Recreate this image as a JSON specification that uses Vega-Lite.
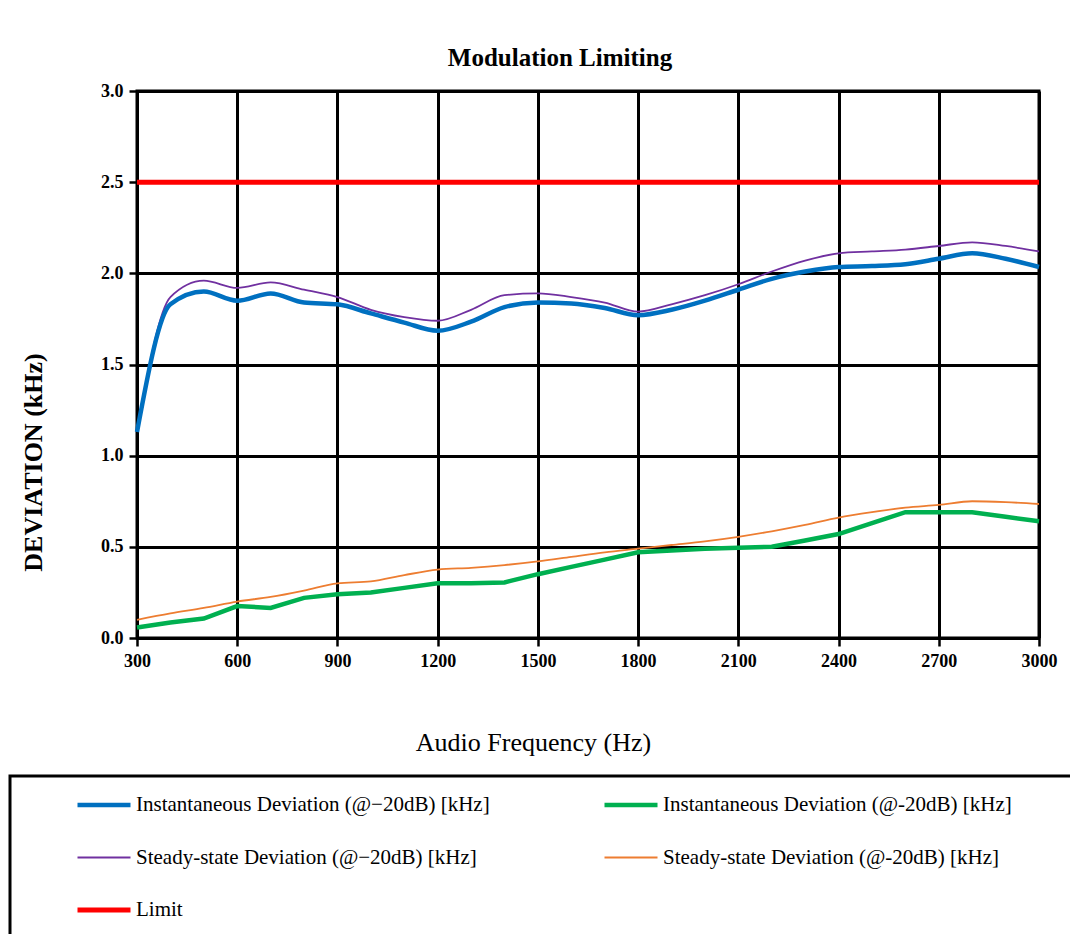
{
  "$schema": "https://vega.github.io/schema/vega-lite/v6.json",
  "autosize": "none",
  "width": 902,
  "height": 547,
  "padding": {"left": 137, "top": 91, "right": 31, "bottom": 296},
  "background": "white",
  "title": {
    "text": "Modulation Limiting",
    "font": "Liberation Serif",
    "fontWeight": "bold",
    "fontSize": 25,
    "color": "black",
    "anchor": "middle",
    "dx": -28,
    "offset": 11
  },
  "data": {
    "values": [
      {"series": "Instantaneous Deviation (@−20dB) [kHz]", "freq": 300, "dev": 1.13},
      {"series": "Instantaneous Deviation (@−20dB) [kHz]", "freq": 400, "dev": 1.83},
      {"series": "Instantaneous Deviation (@−20dB) [kHz]", "freq": 500, "dev": 1.9},
      {"series": "Instantaneous Deviation (@−20dB) [kHz]", "freq": 600, "dev": 1.85},
      {"series": "Instantaneous Deviation (@−20dB) [kHz]", "freq": 700, "dev": 1.89},
      {"series": "Instantaneous Deviation (@−20dB) [kHz]", "freq": 800, "dev": 1.84},
      {"series": "Instantaneous Deviation (@−20dB) [kHz]", "freq": 900, "dev": 1.83},
      {"series": "Instantaneous Deviation (@−20dB) [kHz]", "freq": 1000, "dev": 1.78},
      {"series": "Instantaneous Deviation (@−20dB) [kHz]", "freq": 1100, "dev": 1.73},
      {"series": "Instantaneous Deviation (@−20dB) [kHz]", "freq": 1200, "dev": 1.685},
      {"series": "Instantaneous Deviation (@−20dB) [kHz]", "freq": 1300, "dev": 1.735},
      {"series": "Instantaneous Deviation (@−20dB) [kHz]", "freq": 1400, "dev": 1.815},
      {"series": "Instantaneous Deviation (@−20dB) [kHz]", "freq": 1500, "dev": 1.84},
      {"series": "Instantaneous Deviation (@−20dB) [kHz]", "freq": 1600, "dev": 1.835},
      {"series": "Instantaneous Deviation (@−20dB) [kHz]", "freq": 1700, "dev": 1.81},
      {"series": "Instantaneous Deviation (@−20dB) [kHz]", "freq": 1800, "dev": 1.77},
      {"series": "Instantaneous Deviation (@−20dB) [kHz]", "freq": 1900, "dev": 1.8},
      {"series": "Instantaneous Deviation (@−20dB) [kHz]", "freq": 2000, "dev": 1.85},
      {"series": "Instantaneous Deviation (@−20dB) [kHz]", "freq": 2100, "dev": 1.91},
      {"series": "Instantaneous Deviation (@−20dB) [kHz]", "freq": 2200, "dev": 1.97},
      {"series": "Instantaneous Deviation (@−20dB) [kHz]", "freq": 2300, "dev": 2.01},
      {"series": "Instantaneous Deviation (@−20dB) [kHz]", "freq": 2400, "dev": 2.035},
      {"series": "Instantaneous Deviation (@−20dB) [kHz]", "freq": 2500, "dev": 2.04},
      {"series": "Instantaneous Deviation (@−20dB) [kHz]", "freq": 2600, "dev": 2.05},
      {"series": "Instantaneous Deviation (@−20dB) [kHz]", "freq": 2700, "dev": 2.08},
      {"series": "Instantaneous Deviation (@−20dB) [kHz]", "freq": 2800, "dev": 2.11},
      {"series": "Instantaneous Deviation (@−20dB) [kHz]", "freq": 2900, "dev": 2.08},
      {"series": "Instantaneous Deviation (@−20dB) [kHz]", "freq": 3000, "dev": 2.035},

      {"series": "Steady-state Deviation (@−20dB) [kHz]", "freq": 300, "dev": 1.13},
      {"series": "Steady-state Deviation (@−20dB) [kHz]", "freq": 400, "dev": 1.87},
      {"series": "Steady-state Deviation (@−20dB) [kHz]", "freq": 500, "dev": 1.96},
      {"series": "Steady-state Deviation (@−20dB) [kHz]", "freq": 600, "dev": 1.92},
      {"series": "Steady-state Deviation (@−20dB) [kHz]", "freq": 700, "dev": 1.95},
      {"series": "Steady-state Deviation (@−20dB) [kHz]", "freq": 800, "dev": 1.91},
      {"series": "Steady-state Deviation (@−20dB) [kHz]", "freq": 900, "dev": 1.87},
      {"series": "Steady-state Deviation (@−20dB) [kHz]", "freq": 1000, "dev": 1.8},
      {"series": "Steady-state Deviation (@−20dB) [kHz]", "freq": 1100, "dev": 1.76},
      {"series": "Steady-state Deviation (@−20dB) [kHz]", "freq": 1200, "dev": 1.74},
      {"series": "Steady-state Deviation (@−20dB) [kHz]", "freq": 1300, "dev": 1.8},
      {"series": "Steady-state Deviation (@−20dB) [kHz]", "freq": 1400, "dev": 1.88},
      {"series": "Steady-state Deviation (@−20dB) [kHz]", "freq": 1500, "dev": 1.89},
      {"series": "Steady-state Deviation (@−20dB) [kHz]", "freq": 1600, "dev": 1.87},
      {"series": "Steady-state Deviation (@−20dB) [kHz]", "freq": 1700, "dev": 1.84},
      {"series": "Steady-state Deviation (@−20dB) [kHz]", "freq": 1800, "dev": 1.79},
      {"series": "Steady-state Deviation (@−20dB) [kHz]", "freq": 1900, "dev": 1.83},
      {"series": "Steady-state Deviation (@−20dB) [kHz]", "freq": 2000, "dev": 1.88},
      {"series": "Steady-state Deviation (@−20dB) [kHz]", "freq": 2100, "dev": 1.94},
      {"series": "Steady-state Deviation (@−20dB) [kHz]", "freq": 2200, "dev": 2.01},
      {"series": "Steady-state Deviation (@−20dB) [kHz]", "freq": 2300, "dev": 2.07},
      {"series": "Steady-state Deviation (@−20dB) [kHz]", "freq": 2400, "dev": 2.11},
      {"series": "Steady-state Deviation (@−20dB) [kHz]", "freq": 2500, "dev": 2.12},
      {"series": "Steady-state Deviation (@−20dB) [kHz]", "freq": 2600, "dev": 2.13},
      {"series": "Steady-state Deviation (@−20dB) [kHz]", "freq": 2700, "dev": 2.15},
      {"series": "Steady-state Deviation (@−20dB) [kHz]", "freq": 2800, "dev": 2.17},
      {"series": "Steady-state Deviation (@−20dB) [kHz]", "freq": 2900, "dev": 2.15},
      {"series": "Steady-state Deviation (@−20dB) [kHz]", "freq": 3000, "dev": 2.12},

      {"series": "Instantaneous Deviation (@-20dB) [kHz]", "freq": 300, "dev": 0.058},
      {"series": "Instantaneous Deviation (@-20dB) [kHz]", "freq": 400, "dev": 0.085},
      {"series": "Instantaneous Deviation (@-20dB) [kHz]", "freq": 500, "dev": 0.107},
      {"series": "Instantaneous Deviation (@-20dB) [kHz]", "freq": 600, "dev": 0.175},
      {"series": "Instantaneous Deviation (@-20dB) [kHz]", "freq": 700, "dev": 0.165},
      {"series": "Instantaneous Deviation (@-20dB) [kHz]", "freq": 800, "dev": 0.22},
      {"series": "Instantaneous Deviation (@-20dB) [kHz]", "freq": 900, "dev": 0.24},
      {"series": "Instantaneous Deviation (@-20dB) [kHz]", "freq": 1000, "dev": 0.25},
      {"series": "Instantaneous Deviation (@-20dB) [kHz]", "freq": 1100, "dev": 0.275},
      {"series": "Instantaneous Deviation (@-20dB) [kHz]", "freq": 1200, "dev": 0.3},
      {"series": "Instantaneous Deviation (@-20dB) [kHz]", "freq": 1300, "dev": 0.3},
      {"series": "Instantaneous Deviation (@-20dB) [kHz]", "freq": 1400, "dev": 0.305},
      {"series": "Instantaneous Deviation (@-20dB) [kHz]", "freq": 1500, "dev": 0.35},
      {"series": "Instantaneous Deviation (@-20dB) [kHz]", "freq": 1600, "dev": 0.39},
      {"series": "Instantaneous Deviation (@-20dB) [kHz]", "freq": 1700, "dev": 0.43},
      {"series": "Instantaneous Deviation (@-20dB) [kHz]", "freq": 1800, "dev": 0.47},
      {"series": "Instantaneous Deviation (@-20dB) [kHz]", "freq": 1900, "dev": 0.48},
      {"series": "Instantaneous Deviation (@-20dB) [kHz]", "freq": 2000, "dev": 0.49},
      {"series": "Instantaneous Deviation (@-20dB) [kHz]", "freq": 2100, "dev": 0.495},
      {"series": "Instantaneous Deviation (@-20dB) [kHz]", "freq": 2200, "dev": 0.5},
      {"series": "Instantaneous Deviation (@-20dB) [kHz]", "freq": 2300, "dev": 0.535},
      {"series": "Instantaneous Deviation (@-20dB) [kHz]", "freq": 2400, "dev": 0.57},
      {"series": "Instantaneous Deviation (@-20dB) [kHz]", "freq": 2500, "dev": 0.63},
      {"series": "Instantaneous Deviation (@-20dB) [kHz]", "freq": 2600, "dev": 0.69},
      {"series": "Instantaneous Deviation (@-20dB) [kHz]", "freq": 2700, "dev": 0.69},
      {"series": "Instantaneous Deviation (@-20dB) [kHz]", "freq": 2800, "dev": 0.69},
      {"series": "Instantaneous Deviation (@-20dB) [kHz]", "freq": 2900, "dev": 0.665},
      {"series": "Instantaneous Deviation (@-20dB) [kHz]", "freq": 3000, "dev": 0.64},

      {"series": "Steady-state Deviation (@-20dB) [kHz]", "freq": 300, "dev": 0.1},
      {"series": "Steady-state Deviation (@-20dB) [kHz]", "freq": 400, "dev": 0.135},
      {"series": "Steady-state Deviation (@-20dB) [kHz]", "freq": 500, "dev": 0.165},
      {"series": "Steady-state Deviation (@-20dB) [kHz]", "freq": 600, "dev": 0.2},
      {"series": "Steady-state Deviation (@-20dB) [kHz]", "freq": 700, "dev": 0.225},
      {"series": "Steady-state Deviation (@-20dB) [kHz]", "freq": 800, "dev": 0.26},
      {"series": "Steady-state Deviation (@-20dB) [kHz]", "freq": 900, "dev": 0.3},
      {"series": "Steady-state Deviation (@-20dB) [kHz]", "freq": 1000, "dev": 0.31},
      {"series": "Steady-state Deviation (@-20dB) [kHz]", "freq": 1100, "dev": 0.345},
      {"series": "Steady-state Deviation (@-20dB) [kHz]", "freq": 1200, "dev": 0.375},
      {"series": "Steady-state Deviation (@-20dB) [kHz]", "freq": 1300, "dev": 0.385},
      {"series": "Steady-state Deviation (@-20dB) [kHz]", "freq": 1400, "dev": 0.4},
      {"series": "Steady-state Deviation (@-20dB) [kHz]", "freq": 1500, "dev": 0.42},
      {"series": "Steady-state Deviation (@-20dB) [kHz]", "freq": 1600, "dev": 0.445},
      {"series": "Steady-state Deviation (@-20dB) [kHz]", "freq": 1700, "dev": 0.47},
      {"series": "Steady-state Deviation (@-20dB) [kHz]", "freq": 1800, "dev": 0.49},
      {"series": "Steady-state Deviation (@-20dB) [kHz]", "freq": 1900, "dev": 0.51},
      {"series": "Steady-state Deviation (@-20dB) [kHz]", "freq": 2000, "dev": 0.53},
      {"series": "Steady-state Deviation (@-20dB) [kHz]", "freq": 2100, "dev": 0.555},
      {"series": "Steady-state Deviation (@-20dB) [kHz]", "freq": 2200, "dev": 0.585},
      {"series": "Steady-state Deviation (@-20dB) [kHz]", "freq": 2300, "dev": 0.62},
      {"series": "Steady-state Deviation (@-20dB) [kHz]", "freq": 2400, "dev": 0.66},
      {"series": "Steady-state Deviation (@-20dB) [kHz]", "freq": 2500, "dev": 0.69},
      {"series": "Steady-state Deviation (@-20dB) [kHz]", "freq": 2600, "dev": 0.715},
      {"series": "Steady-state Deviation (@-20dB) [kHz]", "freq": 2700, "dev": 0.73},
      {"series": "Steady-state Deviation (@-20dB) [kHz]", "freq": 2800, "dev": 0.75},
      {"series": "Steady-state Deviation (@-20dB) [kHz]", "freq": 2900, "dev": 0.745},
      {"series": "Steady-state Deviation (@-20dB) [kHz]", "freq": 3000, "dev": 0.735},

      {"series": "Limit", "freq": 300, "dev": 2.5},
      {"series": "Limit", "freq": 3000, "dev": 2.5}
    ]
  },
  "encoding": {
    "x": {
      "field": "freq",
      "type": "quantitative",
      "scale": {"domain": [300, 3000], "nice": false, "zero": false},
      "axis": {
        "values": [300, 600, 900, 1200, 1500, 1800, 2100, 2400, 2700, 3000],
        "format": "d",
        "labelFlush": false,
        "labelOverlap": false,
        "title": "Audio Frequency (Hz)",
        "titleFont": "Liberation Serif",
        "titleFontWeight": "normal",
        "titleFontSize": 26,
        "titleColor": "black",
        "titleX": 396,
        "titleY": 104,
        "titleBaseline": "middle",
        "labelPadding": 6
      }
    },
    "y": {
      "field": "dev",
      "type": "quantitative",
      "scale": {"domain": [0, 3], "nice": false},
      "axis": {
        "values": [0, 0.5, 1, 1.5, 2, 2.5, 3],
        "format": ".1f",
        "labelFlush": false,
        "title": "DEVIATION (kHz)",
        "titleFont": "Liberation Serif",
        "titleFontWeight": "bold",
        "titleFontSize": 26,
        "titleColor": "black",
        "titleX": -104,
        "titleY": 371,
        "titleAngle": -90,
        "titleAlign": "center",
        "titleBaseline": "middle",
        "labelPadding": 6
      }
    },
    "color": {
      "field": "series",
      "type": "nominal",
      "scale": {
        "domain": [
          "Instantaneous Deviation (@−20dB) [kHz]",
          "Instantaneous Deviation (@-20dB) [kHz]",
          "Steady-state Deviation (@−20dB) [kHz]",
          "Steady-state Deviation (@-20dB) [kHz]",
          "Limit"
        ],
        "range": ["#0070C0", "#00B050", "#7030A0", "#ED7D31", "#FF0000"]
      },
      "legend": {"title": " ", "titleOrient": "right", "titlePadding": 60}
    },
    "strokeWidth": {
      "field": "series",
      "type": "nominal",
      "scale": {
        "type": "ordinal",
        "domain": [
          "Instantaneous Deviation (@−20dB) [kHz]",
          "Instantaneous Deviation (@-20dB) [kHz]",
          "Steady-state Deviation (@−20dB) [kHz]",
          "Steady-state Deviation (@-20dB) [kHz]",
          "Limit"
        ],
        "range": [4.5, 4.5, 1.8, 1.8, 5]
      },
      "legend": {"title": " ", "titleOrient": "right", "titlePadding": 60}
    }
  },
  "layer": [
    {
      "transform": [{"filter": "datum.series == 'Steady-state Deviation (@−20dB) [kHz]' || datum.series == 'Steady-state Deviation (@-20dB) [kHz]'"}],
      "mark": {"type": "line", "interpolate": "monotone"}
    },
    {
      "transform": [{"filter": "datum.series == 'Instantaneous Deviation (@−20dB) [kHz]'"}],
      "mark": {"type": "line", "interpolate": "monotone"}
    },
    {
      "transform": [{"filter": "datum.series == 'Instantaneous Deviation (@-20dB) [kHz]' || datum.series == 'Limit'"}],
      "mark": {"type": "line", "interpolate": "linear"}
    }
  ],
  "config": {
    "view": {"stroke": "black", "strokeWidth": 3},
    "axis": {
      "domainColor": "black",
      "domainWidth": 3,
      "gridColor": "black",
      "gridWidth": 3,
      "gridOpacity": 1,
      "tickColor": "black",
      "tickWidth": 2.5,
      "tickSize": 8,
      "labelFont": "Liberation Serif",
      "labelFontWeight": "bold",
      "labelFontSize": 18,
      "labelColor": "black"
    },
    "legend": {
      "orient": "none",
      "legendX": -127,
      "legendY": 685,
      "direction": "horizontal",
      "columns": 2,
      "columnPadding": 50,
      "rowPadding": 0.5,
      "clipHeight": 52,
      "padding": 3,
      "strokeColor": "black",
      "strokeWidth": 3,
      "symbolType": "stroke",
      "symbolSize": 2809,
      "symbolOffset": 62,
      "labelOffset": 3,
      "labelFont": "Liberation Serif",
      "labelFontSize": 21,
      "labelColor": "black",
      "labelLimit": 600,
      "titleFontSize": 12
    }
  }
}
